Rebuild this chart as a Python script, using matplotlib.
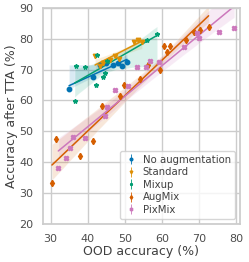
import matplotlib
matplotlib.use("Agg")
import matplotlib.pyplot as plt
import numpy as np
import seaborn as sns

sns.set_theme(style="whitegrid")

# OOD accuracy (x) vs accuracy after TTA (y), one list per training method
none_x = [35.0, 41.5, 43.3, 45.0, 46.8, 48.3, 49.2, 50.6]
none_y = [63.6, 67.7, 71.5, 72.0, 71.5, 72.0, 71.2, 72.4]

std_x = [42.0, 43.3, 44.2, 46.0, 47.4, 48.5, 52.4, 53.7, 54.6]
std_y = [74.5, 71.3, 72.1, 73.1, 74.4, 73.5, 79.0, 79.6, 79.1]

mix_x = [36.5, 36.8, 39.2, 42.2, 42.4, 44.2, 44.6, 45.1, 56.0, 58.7]
mix_y = [59.9, 71.2, 71.0, 65.0, 74.8, 67.7, 68.8, 72.9, 79.6, 81.6]

aug_x = [30.4, 31.5, 38.0, 41.5, 44.0, 48.8, 49.9, 54.2, 56.3, 59.4, 60.5,
         61.4, 62.3, 66.4, 68.6, 70.4, 72.6]
aug_y = [33.4, 47.5, 42.0, 46.9, 58.2, 61.3, 65.0, 66.9, 71.5, 69.9, 77.7,
         75.6, 77.7, 79.6, 82.3, 82.8, 83.9]

pix_x = [32.1, 34.3, 35.2, 36.0, 39.3, 44.7, 45.1, 47.4, 51.0, 53.3, 55.7,
         56.7, 59.1, 66.0, 69.5, 70.0, 75.5, 79.5]
pix_y = [38.2, 41.4, 44.7, 48.2, 47.9, 55.0, 58.0, 63.4, 64.7, 70.8, 71.0,
         72.9, 72.6, 77.4, 81.9, 80.2, 82.3, 83.6]

names = ["No augmentation", "Standard", "Mixup", "AugMix", "PixMix"]
markers = ["o", "v", "*", "d", "X"]
colors = sns.color_palette("colorblind")
cols = [colors[0], colors[1], colors[2], colors[3], colors[4]]
series = [(none_x, none_y), (std_x, std_y), (mix_x, mix_y),
          (aug_x, aug_y), (pix_x, pix_y)]

fig = plt.figure(figsize=(2.49, 2.62), dpi=100)
ax = fig.add_axes([0.173, 0.145, 0.79, 0.825])

for (x, y), name, m, c in zip(series, names, markers, cols):
    sns.regplot(x=np.array(x), y=np.array(y), ax=ax, scatter=False, ci=95,
                color=c, line_kws=dict(linewidth=1.1))
    ax.errorbar(x, y, yerr=0.5, fmt=m, color=c, markersize=3.2, elinewidth=0.6,
                linestyle="none", label=name)

ax.set_xlim(28, 81)
ax.set_ylim(20, 90)
ax.set_xticks([30, 40, 50, 60, 70, 80])
ax.set_yticks([20, 30, 40, 50, 60, 70, 80, 90])
ax.tick_params(labelsize=8, pad=1, labelcolor="0.3")
ax.set_xlabel("OOD accuracy (%)", fontsize=9, labelpad=1, color="0.25")
ax.set_ylabel("Accuracy after TTA (%)", fontsize=9, labelpad=1, color="0.25")
leg = ax.legend(loc="lower right", fontsize=7.3, markerscale=0.6,
                handletextpad=0.4, borderpad=0.4, labelspacing=0.25,
                handlelength=1.4)
for t in leg.get_texts():
    t.set_color("0.25")

fig.savefig("out.png", dpi=100)
